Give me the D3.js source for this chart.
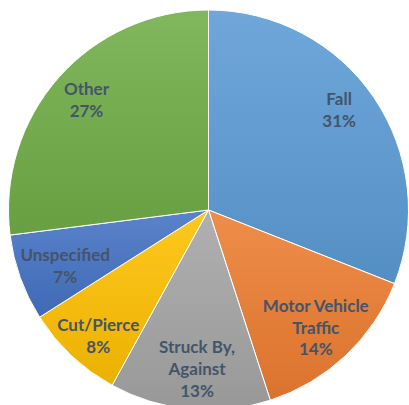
<!DOCTYPE html>
<html>
<head>
<meta charset="utf-8">
<script src="https://cdn.jsdelivr.net/npm/d3@7"></script>
<style>
  body { margin: 0; background: #fff; }
  svg { display: block; }
</style>
</head>
<body>
<div id="chart"></div>
<script>
const categories = ["Fall", "Motor Vehicle Traffic", "Struck By, Against", "Cut/Pierce", "Unspecified", "Other"];
const labelLines = [["Fall"], ["Motor Vehicle", "Traffic"], ["Struck By,", "Against"], ["Cut/Pierce"], ["Unspecified"], ["Other"]];
const values = [31, 14, 13, 8, 7, 27];
const colors = ["#5b9bd5", "#ed7d31", "#a5a5a5", "#ffc000", "#4472c4", "#70ad47"];

const W = 409, H = 405;
const cx = 208.5, cy = 210, R = 200;

// small label nudges (Excel doesn't put labels exactly on the centroid)
const labelNudge = [[-5, -8], [-5, -2], [4, -4], [2, 6], [11, 0], [1, -1]];

const svg = d3.select("#chart").append("svg")
  .attr("width", W)
  .attr("height", H);

// gradients, lighter on top like the Excel style
const defs = svg.append("defs");
colors.forEach((c, i) => {
  const grad = defs.append("linearGradient")
    .attr("id", "grad" + i)
    .attr("x1", 0).attr("y1", 0).attr("x2", 0).attr("y2", 1);
  grad.append("stop").attr("offset", "0%").attr("stop-color", d3.interpolateRgb(c, "#fff")(0.12));
  grad.append("stop").attr("offset", "100%").attr("stop-color", d3.interpolateRgb(c, "#000")(0.08));
});

const pie = d3.pie().sort(null).value(d => d);
const arcs = pie(values);

const arc = d3.arc().innerRadius(0).outerRadius(R);
const labelArc = d3.arc().innerRadius(R * 0.82).outerRadius(R * 0.82);

const g = svg.append("g").attr("transform", `translate(${cx},${cy})`);

g.selectAll("path.slice")
  .data(arcs)
  .join("path")
  .attr("class", "slice")
  .attr("d", arc)
  .attr("fill", (d, i) => `url(#grad${i})`)
  .attr("stroke", "#fff")
  .attr("stroke-width", 1);

const lineH = 22;
const labels = g.selectAll("text.label")
  .data(arcs)
  .join("text")
  .attr("class", "label")
  .attr("text-anchor", "middle")
  .attr("font-family", "Lato, 'Open Sans', sans-serif")
  .attr("font-weight", "bold")
  .attr("font-size", "17px")
  .attr("fill", "#44546a")
  .attr("transform", (d, i) => {
    const [x, y] = labelArc.centroid(d);
    return `translate(${x + labelNudge[i][0]},${y + labelNudge[i][1]})`;
  });

labels.each(function(d, i) {
  const lines = labelLines[i].concat([values[i] + "%"]);
  const t = d3.select(this);
  const y0 = -(lines.length - 1) * lineH / 2;
  lines.forEach((ln, k) => {
    t.append("tspan")
      .attr("x", 0)
      .attr("y", y0 + k * lineH)
      .attr("dy", "0.35em")
      .text(ln);
  });
});
</script>
</body>
</html>
